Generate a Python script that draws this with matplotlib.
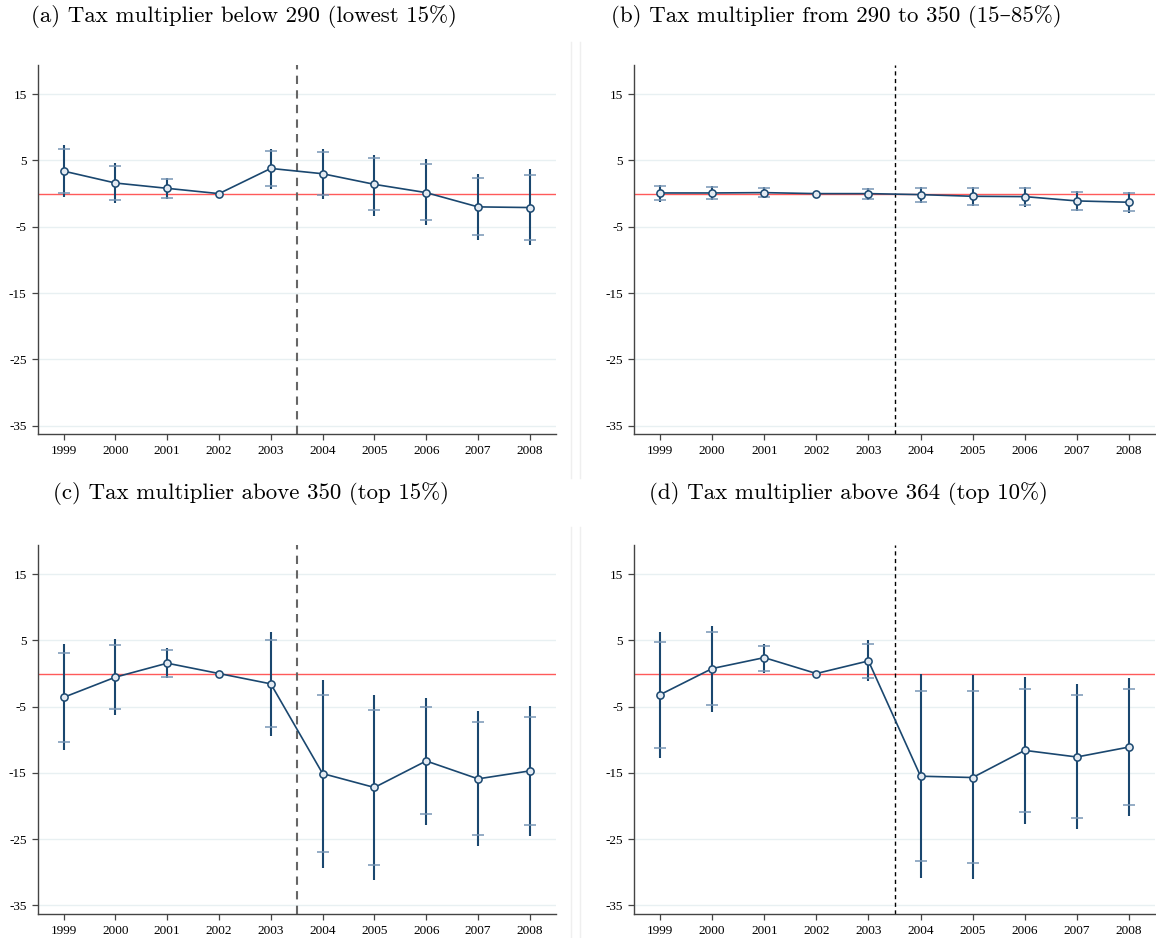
import numpy as np
import matplotlib
matplotlib.use("Agg")
import matplotlib.pyplot as plt

nan = np.nan

years = [1999, 2000, 2001, 2002, 2003, 2004, 2005, 2006, 2007, 2008]
ytick_vals = [15, 5, -5, -15, -25, -35]
ytick_labels = ["15", "5", "-5", "-15", "-25", "-35"]

titles = [
    "(a) Tax multiplier below 290 (lowest 15%)",
    "(b) Tax multiplier from 290 to 350 (15\u201385%)",
    "(c) Tax multiplier above 350 (top 15%)",
    "(d) Tax multiplier above 364 (top 10%)",
]

# (a) below 290
coef_a = [3.4, 1.6, 0.8, 0.0, 3.8, 3.0, 1.4, 0.15, -2.0, -2.1]
hi95_a = [7.3, 4.6, 2.3, nan, 6.7, 6.8, 5.9, 5.2, 3.0, 3.7]
lo95_a = [-0.5, -1.4, -0.8, nan, 0.7, -0.8, -3.3, -4.7, -6.95, -7.75]
hi90_a = [6.7, 4.2, 2.2, nan, 6.5, 6.3, 5.3, 4.4, 2.3, 2.8]
lo90_a = [0.1, -1.0, -0.6, nan, 1.1, -0.2, -2.5, -4.0, -6.2, -6.95]

# (b) 290 to 350
coef_b = [0.1, 0.1, 0.15, 0.0, 0.0, -0.15, -0.4, -0.45, -1.1, -1.3]
hi95_b = [1.3, 1.1, 1.0, nan, 0.9, 1.06, 1.0, 1.0, 0.45, 0.25]
lo95_b = [-1.2, -1.0, -0.7, nan, -0.96, -1.4, -1.9, -2.0, -2.6, -2.9]
hi90_b = [1.1, 0.95, 0.8, nan, 0.75, 0.9, 0.8, 0.8, 0.3, 0.05]
lo90_b = [-1.0, -0.85, -0.55, nan, -0.8, -1.2, -1.65, -1.7, -2.4, -2.65]

# (c) above 350
coef_c = [-3.6, -0.55, 1.56, 0.0, -1.56, -15.1, -17.2, -13.2, -15.9, -14.7]
hi95_c = [4.4, 5.2, 3.8, nan, 6.3, -0.95, -3.3, -3.7, -5.7, -4.9]
lo95_c = [-11.6, -6.2, -0.65, nan, -9.4, -29.3, -31.2, -22.8, -26.1, -24.5]
hi90_c = [3.1, 4.3, 3.6, nan, 5.1, -3.2, -5.5, -5.1, -7.3, -6.5]
lo90_c = [-10.3, -5.4, -0.45, nan, -8.1, -27.0, -28.9, -21.2, -24.4, -22.9]

# (d) above 364
coef_d = [-3.2, 0.75, 2.4, 0.0, 1.9, -15.5, -15.7, -11.6, -12.6, -11.1]
hi95_d = [6.2, 7.2, 4.5, nan, 5.0, -0.05, -0.25, -0.5, -1.6, -0.75]
lo95_d = [-12.7, -5.8, 0.15, nan, -1.2, -30.8, -31.0, -22.7, -23.5, -21.5]
hi90_d = [4.8, 6.2, 4.2, nan, 4.5, -2.6, -2.7, -2.3, -3.3, -2.4]
lo90_d = [-11.2, -4.7, 0.45, nan, -0.7, -28.3, -28.6, -20.9, -21.8, -19.8]

panels = [
    (coef_a, hi95_a, lo95_a, hi90_a, lo90_a),
    (coef_b, hi95_b, lo95_b, hi90_b, lo90_b),
    (coef_c, hi95_c, lo95_c, hi90_c, lo90_c),
    (coef_d, hi95_d, lo95_d, hi90_d, lo90_d),
]

W, H = 1156, 938
fig = plt.figure(figsize=(W / 100, H / 100), dpi=100)

# axes boxes in pixels: left, right, top, bottom
boxes = [(37.7, 555.7, 65, 434.3), (634, 1155, 65, 434.3),
         (37.7, 555.7, 545, 914), (634, 1155, 545, 914)]
title_pos = [(244, 16), (836, 16), (251, 493), (848, 493)]
# dashed line style differs a bit between the left and right columns
vstyles = [dict(color="#666666", lw=1.5, dashes=(4, 3)),
           dict(color="black", lw=1.0, dashes=(3, 2.5)),
           dict(color="#666666", lw=1.5, dashes=(4, 3)),
           dict(color="black", lw=1.0, dashes=(3, 2.5))]

navy = "#1a476f"
light = "#7896b5"

for i, (coef, hi95, lo95, hi90, lo90) in enumerate(panels):
    l, r, t, b = boxes[i]
    ax = fig.add_axes([l / W, 1 - b / H, (r - l) / W, (b - t) / H])
    ax.set_xlim(1998.5, 2008.5)
    ax.set_ylim(-36.3, 19.4)

    for v in ytick_vals:
        ax.axhline(v, color="#e8f0f2", lw=1, zorder=0)
    ax.axhline(0, color="#ff5a5a", lw=1, zorder=1)
    ax.axvline(2003.5, zorder=1, **vstyles[i])

    ax.vlines(years, lo95, hi95, color=navy, lw=1.5, zorder=2)
    ax.plot(years, hi90, ls="none", marker="_", ms=8, mew=1.1, color=light, zorder=3)
    ax.plot(years, lo90, ls="none", marker="_", ms=8, mew=1.1, color=light, zorder=3)
    ax.plot(years, coef, color=navy, lw=1.2, marker="o", ms=5.2,
            mfc="#e3eaf2", mec=navy, mew=1.1, zorder=4)

    ax.set_xticks(years)
    ax.set_xticklabels([str(y) for y in years])
    ax.set_yticks(ytick_vals)
    ax.set_yticklabels(ytick_labels)
    for s in ["top", "right"]:
        ax.spines[s].set_visible(False)
    for s in ["left", "bottom"]:
        ax.spines[s].set_color("#444444")
        ax.spines[s].set_linewidth(1.0)
    ax.tick_params(direction="out", length=4, width=0.9, color="#444444",
                   labelsize=9.5, pad=4)
    for lab in ax.get_xticklabels() + ax.get_yticklabels():
        lab.set_family("Liberation Serif")

    fig.text(title_pos[i][0] / W, 1 - title_pos[i][1] / H, titles[i],
             ha="center", va="center", fontsize=16.5,
             family=["cmr10", "DejaVu Serif"])

# faint borders between the left and right graphs
for x in [571, 580]:
    fig.add_artist(plt.Line2D([x / W, x / W], [1 - 42 / H, 1 - 478 / H],
                              color="#efefef", lw=1))
    fig.add_artist(plt.Line2D([x / W, x / W], [1 - 527 / H, 0],
                              color="#efefef", lw=1))

fig.savefig("out.png", dpi=100)
